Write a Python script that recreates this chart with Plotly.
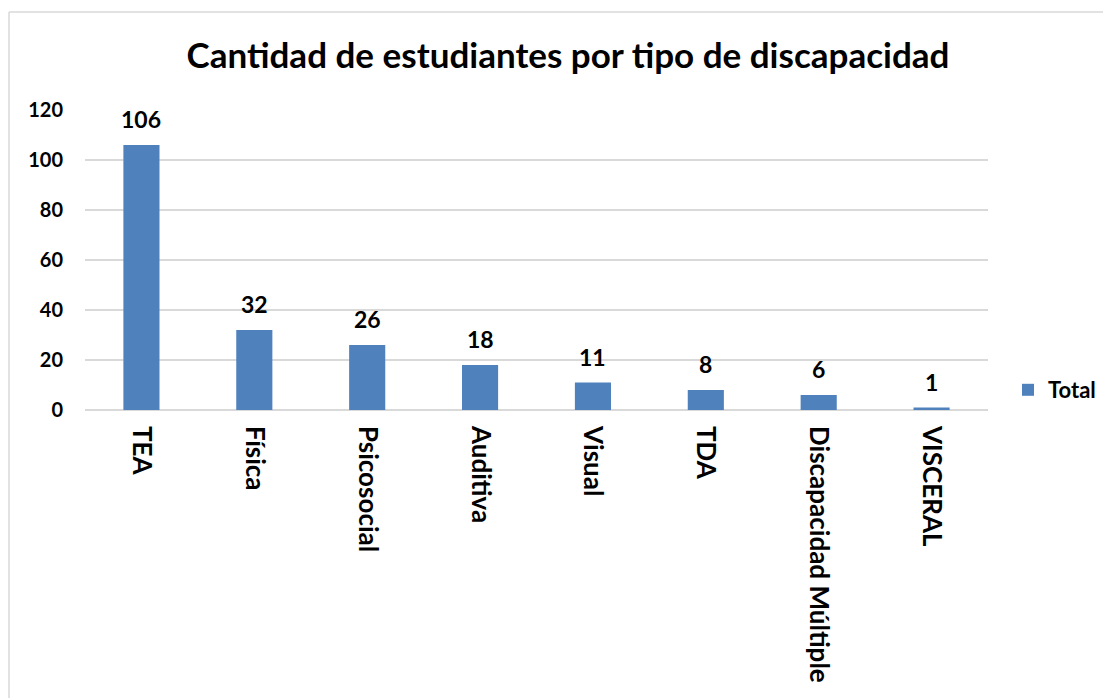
import plotly.graph_objects as go

categories = ["TEA", "Física", "Psicosocial", "Auditiva", "Visual", "TDA", "Discapacidad Múltiple", "VISCERAL"]
values = [106, 32, 26, 18, 11, 8, 6, 1]
series_name = "Total"
y_ticks = [0, 20, 40, 60, 80, 100, 120]

FONT = "Lato, Carlito, Calibri, sans-serif"
OFF = 8  # default body margin of the page

W, H = 1111 - OFF, 698 - OFF
L = 85 - OFF
T = 110 - OFF
R = W - (988 - OFF)
B = H - (410 - OFF)
pw, ph = W - L - R, H - T - B


def px2x(p):
    return (p - OFF - L) / pw


def py2y(p):
    return (H - B - (p - OFF)) / ph


fig = go.Figure()
fig.add_trace(go.Bar(
    x=categories, y=values, name=f"<b>{series_name}</b>",
    marker=dict(color="#4F81BD", line=dict(width=0)),
))

annotations = [
    dict(x=c, y=v, xref="x", yref="y", text=f"<b>{v}</b>", showarrow=False,
         yanchor="bottom", xanchor="center", yshift=10,
         font=dict(family=FONT, size=23, color="#000000"))
    for c, v in zip(categories, values)
]

fig.update_layout(
    width=W, height=H,
    margin=dict(l=L, r=R, t=T, b=B, autoexpand=False),
    paper_bgcolor="white", plot_bgcolor="white",
    bargap=0.68,
    showlegend=True,
    title=dict(text="<b>Cantidad de estudiantes por tipo de discapacidad</b>",
               x=(568 - OFF) / W, xanchor="center", y=1 - (56 - OFF) / H, yanchor="middle",
               font=dict(family=FONT, size=35, color="#000000")),
    legend=dict(x=px2x(1008), xanchor="left", y=py2y(390), yanchor="middle",
                font=dict(family=FONT, size=22, color="#000000"),
                bgcolor="rgba(0,0,0,0)", itemwidth=30),
    xaxis=dict(tickangle=90, showgrid=False, showline=False, ticks="",
               tickvals=categories, ticktext=[f"<b>{c}</b>" for c in categories],
               tickfont=dict(family=FONT, size=26, color="#000000"),
               ticklabelstandoff=15),
    yaxis=dict(range=[0, 120], tickvals=y_ticks, ticktext=[f"<b>{t}</b>" for t in y_ticks],
               showgrid=True, gridcolor="#D9D9D9",
               gridwidth=1.5, zeroline=True, zerolinecolor="#D9D9D9", zerolinewidth=1.5,
               showline=False, ticks="",
               tickfont=dict(family=FONT, size=20, color="#000000"),
               ticklabelstandoff=21),
    annotations=annotations,
    shapes=[
        dict(type="line", xref="paper", yref="paper",
             x0=px2x(9), x1=px2x(1120), y0=py2y(12), y1=py2y(12),
             line=dict(color="#D9D9D9", width=1.5)),
        dict(type="line", xref="paper", yref="paper",
             x0=px2x(9), x1=px2x(9), y0=py2y(12), y1=py2y(710),
             line=dict(color="#D9D9D9", width=1.5)),
    ],
)

fig.write_html("out.html")
